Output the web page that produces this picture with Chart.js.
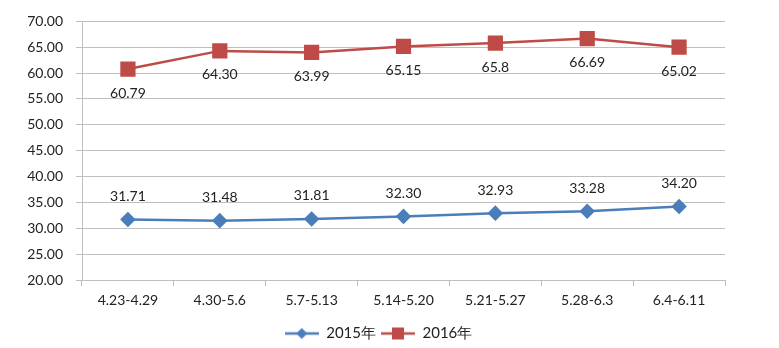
<!DOCTYPE html>
<html><head><meta charset="utf-8">
<script src="https://cdn.jsdelivr.net/npm/chart.js@4/dist/chart.umd.min.js"></script>
<style>html,body{margin:0;padding:0;background:#fff}#wrap{width:779px;height:348px}</style>
</head><body><div id="wrap"><canvas id="c" width="779" height="348"></canvas></div>
<script>
const categories = ['4.23-4.29','4.30-5.6','5.7-5.13','5.14-5.20','5.21-5.27','5.28-6.3','6.4-6.11'];
const seriesNames = ['2015年','2016年'];
const values2015 = [31.71,31.48,31.81,32.30,32.93,33.28,34.20];
const values2016 = [60.79,64.30,63.99,65.15,65.8,66.69,65.02];
const labels2015 = ['31.71','31.48','31.81','32.30','32.93','33.28','34.20'];
const labels2016 = ['60.79','64.30','63.99','65.15','65.8','66.69','65.02'];
const yMin = 20, yMax = 70, yStep = 5;

const FONT = 'Lato, "Open Sans", sans-serif';
const BLUE = '#4a7ebb', RED = '#be4b48';

function legendIcon(color, style){
  const c = document.createElement('canvas');
  c.width = 34; c.height = 14;
  const g = c.getContext('2d');
  g.strokeStyle = color; g.lineWidth = 2.5;
  g.beginPath(); g.moveTo(0,7); g.lineTo(34,7); g.stroke();
  g.fillStyle = color;
  g.beginPath();
  if (style === 'diamond'){ g.moveTo(17,1.5); g.lineTo(22.5,7); g.lineTo(17,12.5); g.lineTo(11.5,7); g.closePath(); }
  else { g.rect(11,1,12,12); }
  g.fill();
  return c;
}
const icons = [legendIcon(BLUE,'diamond'), legendIcon(RED,'square')];

const dataLabels = {
  id:'dataLabels',
  afterDatasetsDraw(chart){
    const ctx = chart.ctx;
    ctx.save();
    ctx.font = '14px ' + FONT;
    ctx.fillStyle = '#222';
    ctx.textAlign = 'center';
    ctx.textBaseline = 'middle';
    chart.data.datasets.forEach((ds,i)=>{
      const meta = chart.getDatasetMeta(i);
      const lbls = i === 0 ? labels2015 : labels2016;
      const dy = i === 0 ? -23 : 24;
      meta.data.forEach((pt,j)=>{ ctx.fillText(lbls[j], pt.x, pt.y + dy); });
    });
    ctx.restore();
  }
};

const legendShift = {
  id:'legendShift',
  afterLayout(chart){
    if (chart.legend){ chart.legend.left += 16; chart.legend.right += 16; }
  }
};

new Chart(document.getElementById('c'), {
  type:'line',
  data:{
    labels: categories,
    datasets:[
      {label:seriesNames[0], data:values2015, borderColor:BLUE, backgroundColor:BLUE, borderWidth:2.5,
       pointStyle:'rectRot', pointRadius:6, pointHoverRadius:6, tension:0},
      {label:seriesNames[1], data:values2016, borderColor:RED, backgroundColor:RED, borderWidth:2.5,
       pointStyle:'rect', pointRadius:9, pointHoverRadius:9, tension:0}
    ]
  },
  options:{
    responsive:false, animation:false,
    layout:{padding:{left:0,right:54,top:19,bottom:-3}},
    plugins:{
      tooltip:{enabled:false},
      legend:{
        position:'bottom',
        labels:{
          usePointStyle:true, pointStyleWidth:34, color:'#222', font:{family:FONT,size:15}, padding:5,
          generateLabels(chart){
            return chart.data.datasets.map((ds,i)=>({
              text: ds.label, pointStyle: icons[i], fillStyle: ds.borderColor,
              strokeStyle: ds.borderColor, lineWidth:0, hidden:false, datasetIndex:i, fontColor:'#222'
            }));
          }
        }
      }
    },
    scales:{
      x:{
        offset:true,
        grid:{offset:true, drawOnChartArea:false, drawTicks:true, tickLength:6, color:'#bfbfbf'},
        border:{color:'#bfbfbf', width:1},
        ticks:{color:'#222', font:{family:FONT,size:14}, padding:6, maxRotation:0},
        afterFit(s){ s.height = 41; }
      },
      y:{
        min:yMin, max:yMax,
        grid:{color:'#bfbfbf', drawTicks:true, tickLength:6},
        border:{color:'#bfbfbf', width:1},
        ticks:{stepSize:yStep, color:'#222', font:{family:FONT,size:14}, padding:13,
          callback:(v)=>Number(v).toFixed(2)},
        afterFit(s){ s.width = 82; }
      }
    }
  },
  plugins:[dataLabels, legendShift]
});
</script></body></html>
